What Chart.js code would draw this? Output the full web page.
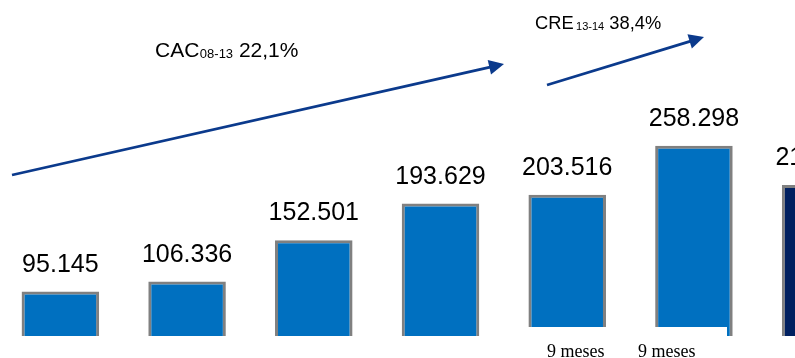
<!DOCTYPE html>
<html>
<head>
<meta charset="utf-8">
<script src="https://cdn.jsdelivr.net/npm/chart.js@4/dist/chart.umd.min.js"></script>
<style>
  html, body { margin: 0; padding: 0; background: #fff; overflow: hidden; }
  #wrap { position: relative; width: 795px; height: 358px; overflow: hidden; }
  #c { position: absolute; left: -3px; top: 0; }
</style>
</head>
<body>
<div id="wrap"><canvas id="c" width="887" height="358"></canvas></div>
<script>
// Periods and totals
const periods = ['2008', '2009', '2010', '2011', '9M 2013', '9M 2014', '2013'];
const values = [95145, 106336, 152501, 193629, 203516, 258298, 214500];
const barColors = ['#0070C0', '#0070C0', '#0070C0', '#0070C0', '#0070C0', '#0070C0', '#002060'];
const periodNotes = ['', '', '', '', '9 meses', '9 meses', ''];

// Growth annotations
const growthNames = ['CAC', 'CRE'];
const growthSpans = ['08-13', '13-14'];
const growthRates = ['22,1%', '38,4%'];

const SHIFT = 3; // canvas sits 3px left of the page edge
const SANS = '"Liberation Sans", Arial, sans-serif';
const SERIF = '"Liberation Serif", "Times New Roman", serif';
const ARROW = '#0B3A8C';

const fmt = v => String(v).replace(/\B(?=(\d{3})+(?!\d))/g, '.');

function arrow(ctx, x1, y1, x2, y2) {
  const a = Math.atan2(y2 - y1, x2 - x1), L = 15, W = 7.5;
  const bx = x2 - L * Math.cos(a), by = y2 - L * Math.sin(a);
  ctx.strokeStyle = ARROW; ctx.fillStyle = ARROW; ctx.lineWidth = 2.8;
  ctx.beginPath(); ctx.moveTo(x1, y1); ctx.lineTo(bx + 2 * Math.cos(a), by + 2 * Math.sin(a)); ctx.stroke();
  ctx.beginPath();
  ctx.moveTo(x2, y2);
  ctx.lineTo(bx - W * Math.sin(a), by + W * Math.cos(a));
  ctx.lineTo(bx + W * Math.sin(a), by - W * Math.cos(a));
  ctx.closePath(); ctx.fill();
}

// name, subscripted span, then the rate, laid out left to right
function growthLabel(ctx, i, x, y, big, small, gap, subDy) {
  ctx.fillStyle = '#000';
  ctx.textAlign = 'left';
  ctx.font = big + 'px ' + SANS;
  ctx.fillText(growthNames[i], x, y);
  const subX = x + ctx.measureText(growthNames[i]).width + gap;
  const space = ctx.measureText(' ').width;
  ctx.font = small + 'px ' + SANS;
  ctx.fillText(growthSpans[i], subX, y + subDy);
  const rateX = subX + ctx.measureText(growthSpans[i]).width + space;
  ctx.font = big + 'px ' + SANS;
  ctx.fillText(growthRates[i], rateX, y);
}

const overlay = {
  id: 'overlay',
  afterDatasetsDraw(chart) {
    const ctx = chart.ctx;
    const meta = chart.getDatasetMeta(0);
    ctx.save();
    // value labels above each bar
    ctx.fillStyle = '#000';
    ctx.font = '25px ' + SANS;
    ctx.textAlign = 'center';
    ctx.textBaseline = 'alphabetic';
    meta.data.forEach((bar, i) => ctx.fillText(fmt(values[i]), bar.x, bar.y - 20));

    ctx.translate(SHIFT, 0);
    // period caption box
    ctx.fillStyle = '#fff';
    ctx.fillRect(510, 327, 217, 31);
    ctx.fillStyle = '#000';
    ctx.font = '18px ' + SERIF;
    ctx.textAlign = 'left';
    ctx.fillText(periodNotes[4], 547, 357);
    ctx.fillText(periodNotes[5], 638, 357);

    // growth arrows and captions
    arrow(ctx, 12, 175, 504, 64);
    arrow(ctx, 547, 85, 704, 37);
    growthLabel(ctx, 0, 155, 56.7, 21, 13, 0.5, 1.7);
    growthLabel(ctx, 1, 535, 28.7, 18.3, 11, 2.5, 1.6);
    ctx.restore();
  }
};

new Chart(document.getElementById('c'), {
  type: 'bar',
  data: {
    labels: periods,
    datasets: [{
      data: values,
      backgroundColor: barColors,
      borderColor: '#808080',
      borderWidth: 3,
      borderSkipped: 'start',
      barPercentage: 0.612,
      categoryPercentage: 1,
      clip: { left: false, right: false, top: false, bottom: 0 }
    }]
  },
  options: {
    responsive: false,
    animation: false,
    devicePixelRatio: 1,
    layout: { padding: { left: 0, right: 0, top: 0, bottom: 22 } },
    plugins: { legend: { display: false }, tooltip: { enabled: false } },
    scales: {
      x: { display: false, offset: true },
      y: { display: false, min: 45350, max: 421600 }
    }
  },
  plugins: [overlay]
});
</script>
</body>
</html>
